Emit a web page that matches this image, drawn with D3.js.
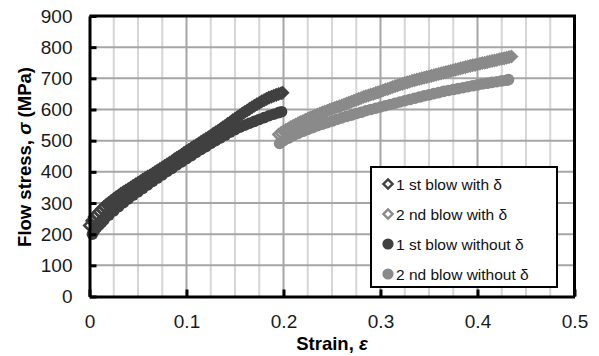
<!DOCTYPE html>
<html>
<head>
<meta charset="utf-8">
<script src="https://cdn.jsdelivr.net/npm/d3@7"></script>
<style>
  body { margin: 0; background: #fff; }
  text { font-family: "Liberation Sans", Arial, sans-serif; }
</style>
</head>
<body>
<svg id="chart" width="599" height="356"></svg>
<script>
// [strain, flow stress MPa]
const blow1With = [
  [0,228],[0.0025,243],[0.005,255],[0.0075,264],[0.01,272],[0.0125,281],[0.015,288],[0.0175,295],
  [0.02,301],[0.0225,307],[0.025,313],[0.0275,319],[0.03,324],[0.0325,330],[0.035,335],[0.0375,340],
  [0.04,345],[0.0425,350],[0.045,355],[0.0475,360],[0.05,365],[0.0525,370],[0.055,375],[0.0575,380],
  [0.06,385],[0.0625,389],[0.065,394],[0.0675,399],[0.07,404],[0.0725,409],[0.075,414],[0.0775,419],
  [0.08,424],[0.0825,429],[0.085,434],[0.0875,440],[0.09,445],[0.0925,450],[0.095,455],[0.0975,461],
  [0.1,466],[0.1025,471],[0.105,476],[0.1075,481],[0.11,486],[0.1125,491],[0.115,496],[0.1175,501],
  [0.12,506],[0.1225,511],[0.125,516],[0.1275,522],[0.13,527],[0.1325,532],[0.135,537],[0.1375,543],
  [0.14,548],[0.1425,554],[0.145,559],[0.1475,565],[0.15,570],[0.1525,576],[0.155,581],[0.1575,587],
  [0.16,592],[0.1625,597],[0.165,602],[0.1675,607],[0.17,612],[0.1725,617],[0.175,621],[0.1775,626],
  [0.18,630],[0.1825,634],[0.185,638],[0.1875,641],[0.19,644],[0.1925,647],[0.195,650],[0.1975,652],
  [0.199,654]
];
const blow2With = [
  [0.195,520],[0.1975,525],[0.2,530],[0.2025,535],[0.205,539],[0.2075,544],[0.21,548],[0.2125,552],
  [0.215,556],[0.2175,560],[0.22,563],[0.2225,567],[0.225,570],[0.2275,574],[0.23,577],[0.2325,581],
  [0.235,584],[0.2375,587],[0.24,590],[0.2425,593],[0.245,596],[0.2475,599],[0.25,602],[0.2525,605],
  [0.255,608],[0.2575,610],[0.26,613],[0.2625,616],[0.265,619],[0.2675,622],[0.27,625],[0.2725,628],
  [0.275,631],[0.2775,634],[0.28,637],[0.2825,640],[0.285,643],[0.2875,645],[0.29,648],[0.2925,650],
  [0.295,653],[0.2975,655],[0.3,658],[0.3025,661],[0.305,664],[0.3075,666],[0.31,669],[0.3125,672],
  [0.315,675],[0.3175,677],[0.32,680],[0.3225,682],[0.325,685],[0.3275,687],[0.33,689],[0.3325,692],
  [0.335,694],[0.3375,696],[0.34,698],[0.3425,700],[0.345,702],[0.3475,704],[0.35,706],[0.3525,708],
  [0.355,710],[0.3575,712],[0.36,714],[0.3625,716],[0.365,718],[0.3675,720],[0.37,722],[0.3725,724],
  [0.375,726],[0.3775,728],[0.38,730],[0.3825,732],[0.385,734],[0.3875,736],[0.39,738],[0.3925,740],
  [0.395,742],[0.3975,743],[0.4,745],[0.4025,747],[0.405,749],[0.4075,750],[0.41,752],[0.4125,754],
  [0.415,756],[0.4175,757],[0.42,759],[0.4225,761],[0.425,763],[0.4275,764],[0.43,766],[0.4325,768],
  [0.435,770]
];
const blow1Without = [
  [0.003,200],[0.005,212],[0.0075,222],[0.01,230],[0.0125,238],[0.015,246],[0.02,261],[0.025,275],
  [0.03,288],[0.035,301],[0.04,313],[0.045,325],[0.05,336],[0.055,347],[0.06,358],[0.065,369],
  [0.07,380],[0.075,390],[0.08,401],[0.085,411],[0.09,422],[0.095,432],[0.1,442],[0.105,452],
  [0.11,462],[0.115,472],[0.12,481],[0.125,491],[0.13,500],[0.135,509],[0.14,518],[0.145,527],
  [0.15,535],[0.155,543],[0.16,550],[0.165,556],[0.17,562],[0.175,568],[0.18,574],[0.185,580],
  [0.19,585],[0.195,590],[0.198,593]
];
const blow2Without = [
  [0.196,491],[0.2,500],[0.205,508],[0.21,516],[0.215,523],[0.22,530],[0.225,536],[0.23,542],
  [0.235,548],[0.24,553],[0.245,558],[0.25,563],[0.255,568],[0.26,573],[0.265,578],[0.27,582],
  [0.275,587],[0.28,591],[0.285,596],[0.29,600],[0.295,604],[0.3,608],[0.305,612],[0.31,616],
  [0.315,620],[0.32,624],[0.325,628],[0.33,632],[0.335,636],[0.34,640],[0.345,644],[0.35,647],
  [0.355,651],[0.36,654],[0.365,658],[0.37,661],[0.375,664],[0.38,667],[0.385,670],[0.39,673],
  [0.395,676],[0.4,679],[0.405,682],[0.41,684],[0.415,687],[0.42,689],[0.425,692],[0.43,694],
  [0.432,696]
];
const legendLabels = ["1 st blow with \u03b4", "2 nd blow with \u03b4", "1 st blow without \u03b4", "2 nd blow without \u03b4"];
const xTicks = [0, 0.1, 0.2, 0.3, 0.4, 0.5];
const xMinorGrid = [0.025,0.05,0.075,0.125,0.15,0.175,0.225,0.25,0.275,0.325,0.35,0.375,0.425,0.45,0.475];
const yTicks = [0,100,200,300,400,500,600,700,800,900];

const dark = "#404040", light = "#8a8a8a";
const series = [
  {data: blow1With, shape: "diamond", color: dark},
  {data: blow2With, shape: "diamond", color: light},
  {data: blow1Without, shape: "circle", color: dark},
  {data: blow2Without, shape: "circle", color: light}
];

const svg = d3.select("#chart");
const x = d3.scaleLinear().domain([0, 0.5]).range([89.5, 574.5]);
const y = d3.scaleLinear().domain([0, 900]).range([296.5, 16]);

// grid
const grid = svg.append("g");
grid.selectAll(".minor").data(xMinorGrid).join("line")
  .attr("x1", d => x(d)).attr("x2", d => x(d)).attr("y1", y(0)).attr("y2", y(900))
  .attr("stroke", "#d6d6d6").attr("stroke-width", 2);
grid.selectAll(".majx").data(xTicks.slice(1, -1)).join("line")
  .attr("x1", d => x(d)).attr("x2", d => x(d)).attr("y1", y(0)).attr("y2", y(900))
  .attr("stroke", "#a6a6a6").attr("stroke-width", 2);
grid.selectAll(".majy").data(yTicks.slice(1, -1)).join("line")
  .attr("y1", d => y(d)).attr("y2", d => y(d)).attr("x1", x(0)).attr("x2", x(0.5))
  .attr("stroke", "#a6a6a6").attr("stroke-width", 2);

// markers
const diamond = r => `M0,${-r}L${r},0L0,${r}L${-r},0Z`;
series.forEach(s => {
  const g = svg.append("g");
  if (s.shape === "diamond") {
    g.selectAll("path").data(s.data).join("path")
      .attr("d", diamond(5.2))
      .attr("transform", d => `translate(${x(d[0])},${y(d[1])})`)
      .attr("fill", "none").attr("stroke", s.color).attr("stroke-width", 2.6);
  } else {
    g.selectAll("circle").data(s.data).join("circle")
      .attr("cx", d => x(d[0])).attr("cy", d => y(d[1])).attr("r", 5.8)
      .attr("fill", s.color);
  }
});

// axes
const yAxis = svg.append("g").attr("transform", `translate(${x(0)},0)`)
  .call(d3.axisLeft(y).tickValues(yTicks).tickSizeInner(-7).tickSizeOuter(0).tickPadding(17));
const xAxis = svg.append("g").attr("transform", `translate(0,${y(0)})`)
  .call(d3.axisBottom(x).tickValues(xTicks).tickFormat(d3.format("~g")).tickSizeInner(-7).tickSizeOuter(0).tickPadding(18));
[yAxis, xAxis].forEach(a => {
  a.select(".domain").attr("stroke", "#000").attr("stroke-width", 3);
  a.selectAll(".tick line").attr("stroke", "#000").attr("stroke-width", 3);
  a.selectAll(".tick text").attr("font-family", "Liberation Sans, Arial, sans-serif")
    .attr("font-size", 19).attr("fill", "#1a1a1a");
});
// top/right frame
svg.append("path")
  .attr("d", `M${x(0)},${y(900)}H${x(0.5)}V${y(0)}`)
  .attr("fill", "none").attr("stroke", "#000").attr("stroke-width", 3);

// axis titles
const xt = svg.append("text").attr("x", 332).attr("y", 350).attr("text-anchor", "middle")
  .attr("font-size", 18.5).attr("font-weight", "bold");
xt.append("tspan").text("Strain, ");
xt.append("tspan").attr("font-style", "italic").text("\u03b5");

const yt = svg.append("text").attr("transform", "translate(31,157) rotate(-90)")
  .attr("text-anchor", "middle").attr("font-size", 18.5).attr("font-weight", "bold");
yt.append("tspan").text("Flow stress, ");
yt.append("tspan").attr("font-style", "italic").text("\u03c3");
yt.append("tspan").text(" (MPa)");

// legend
const lg = svg.append("g");
lg.append("rect").attr("x", 371).attr("y", 167).attr("width", 186).attr("height", 120)
  .attr("fill", "#fff").attr("stroke", "#000").attr("stroke-width", 2);
series.forEach((s, i) => {
  const cy = 184 + i * 30;
  if (s.shape === "diamond") {
    lg.append("path").attr("d", diamond(4.6)).attr("transform", `translate(388,${cy})`)
      .attr("fill", "#fff").attr("stroke", s.color).attr("stroke-width", 2.4);
  } else {
    lg.append("circle").attr("cx", 388).attr("cy", cy).attr("r", 5.6).attr("fill", s.color);
  }
  lg.append("text").attr("x", 396).attr("y", cy).attr("dy", "0.36em")
    .attr("font-size", 15.5).attr("fill", "#111").text(legendLabels[i]);
});
</script>
</body>
</html>
